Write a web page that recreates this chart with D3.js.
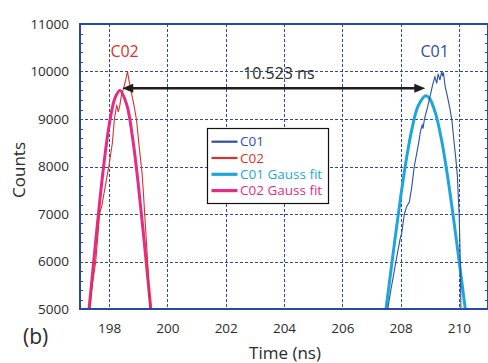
<!DOCTYPE html>
<html>
<head>
<meta charset="utf-8">
<script src="https://cdn.jsdelivr.net/npm/d3@7"></script>
<style>
  html, body { margin: 0; padding: 0; background: #fff; }
  svg { display: block; font-family: "Open Sans", "Noto Sans", "DejaVu Sans", sans-serif; }
</style>
</head>
<body>
<div id="chart"></div>
<script>
// axis ticks
const timeTicks = [198, 200, 202, 204, 206, 208, 210];
const countTicks = [5000, 6000, 7000, 8000, 9000, 10000, 11000];

// C01 measured trace
const c01Time = [207.50, 207.56, 207.67, 207.84, 207.98, 208.04, 208.13, 208.21, 208.30, 208.38, 208.42,
    208.47, 208.62, 208.68, 208.74, 208.77, 208.82, 208.93, 209.01, 209.10, 209.18, 209.24, 209.29,
    209.35, 209.41, 209.44, 209.47, 209.53, 209.61, 209.70, 209.76, 209.84, 209.90, 209.95, 209.97,
    210.01, 210.05, 210.07, 210.08];
const c01Counts = [4700, 5000, 5410, 6000, 6460, 6600, 7000, 7160, 7250, 7550, 7750,
    8000, 8490, 8735, 8870, 8800, 9000, 9260, 9470, 9720, 9890, 9750, 9950,
    9820, 10000, 9900, 9980, 9680, 9470, 9190, 8980, 8490, 8140, 7790, 7510,
    7000, 6000, 5000, 4700];

// C02 measured trace
const c02Time = [197.30, 197.34, 197.42, 197.54, 197.62, 197.67, 197.76, 197.80, 197.90, 197.99, 198.05,
    198.11, 198.18, 198.26, 198.31, 198.36, 198.42, 198.50, 198.56, 198.63, 198.67, 198.72, 198.80,
    198.86, 198.94, 199.03, 199.13, 199.18, 199.22, 199.32, 199.40, 199.45];
const c02Counts = [4700, 5000, 5500, 6000, 6600, 7000, 7200, 7350, 7700, 8000, 8250,
    8490, 9000, 9300, 9150, 9260, 9500, 9650, 9800, 10000, 9850, 9680, 9450,
    9260, 8980, 8420, 7860, 7400, 7000, 6000, 5000, 4700];

// Gauss fits
const c01FitTime = [207.45, 207.6, 207.8, 208.0, 208.2, 208.4, 208.6, 208.86, 209.0, 209.2, 209.4, 209.6, 209.8, 210.0, 210.2, 210.3];
const c01FitCounts = [4766, 5476, 6432, 7345, 8160, 8819, 9270, 9490, 9426, 9118, 8578, 7848, 6987, 6052, 5094, 4627];
const c02FitTime = [197.3, 197.4, 197.6, 197.8, 198.0, 198.2, 198.37, 198.6, 198.8, 199.0, 199.2, 199.4, 199.45];
const c02FitCounts = [4937, 5561, 6806, 7947, 8867, 9440, 9600, 9310, 8622, 7625, 6435, 5184, 4878];

// peak separation annotation
const arrowTime = [198.45, 208.85];
const arrowCounts = 9650;
const arrowLabel = '10.523 ns';

const seriesNames = ['C01', 'C02', 'C01 Gauss fit', 'C02 Gauss fit'];
const colors = {
    frame: '#2a4aa0',
    c01: '#2c4ea3',
    c02: '#d8322c',
    c01Fit: '#1ea6dc',
    c02Fit: '#e62b83',
    text: '#2a2a2a'
};

const width = 488, height = 363;
const plot = {left: 80, top: 24, right: 488, bottom: 309};

const svg = d3.select('#chart').append('svg')
    .attr('width', width)
    .attr('height', height)
    .attr('viewBox', [0, 0, width, height]);

const x = d3.scaleLinear().domain([197, 211]).range([plot.left, plot.right]);
const y = d3.scaleLinear().domain([5000, 11000]).range([plot.bottom, plot.top]);

svg.append('defs').append('clipPath').attr('id', 'clip')
    .append('rect')
    .attr('x', plot.left).attr('y', plot.top)
    .attr('width', plot.right - plot.left).attr('height', plot.bottom - plot.top);

//grid
const grid = svg.append('g')
    .attr('stroke', colors.frame)
    .attr('stroke-width', 1)
    .attr('stroke-dasharray', '3,2');
grid.selectAll('line.v')
    .data(timeTicks)
    .join('line')
    .attr('class', 'v')
    .attr('x1', d => Math.round(x(d)) + 0.5).attr('x2', d => Math.round(x(d)) + 0.5)
    .attr('y1', plot.top).attr('y2', plot.bottom);
grid.selectAll('line.h')
    .data(countTicks.slice(1, -1))
    .join('line')
    .attr('class', 'h')
    .attr('x1', plot.left).attr('x2', plot.right)
    .attr('y1', d => Math.round(y(d)) + 0.5).attr('y2', d => Math.round(y(d)) + 0.5);

//minor ticks on the vertical axes
const minor = y.ticks(30);
svg.append('g')
    .attr('stroke', colors.frame)
    .attr('stroke-width', 1)
    .selectAll('path')
    .data(minor)
    .join('path')
    .attr('d', d => {
        const yy = Math.round(y(d)) + 0.5;
        return `M${plot.left},${yy}h3M${plot.right},${yy}h-3`;
    });

//data lines
const line = d3.line()
    .x(d => x(d[0]))
    .y(d => y(d[1]))
    .curve(d3.curveLinear);
const smooth = d3.line()
    .x(d => x(d[0]))
    .y(d => y(d[1]))
    .curve(d3.curveCatmullRom);

const lines = svg.append('g').attr('clip-path', 'url(#clip)').attr('fill', 'none');
lines.append('path')
    .attr('d', smooth(d3.zip(c01FitTime, c01FitCounts)))
    .attr('stroke', colors.c01Fit).attr('stroke-width', 3);
lines.append('path')
    .attr('d', smooth(d3.zip(c02FitTime, c02FitCounts)))
    .attr('stroke', colors.c02Fit).attr('stroke-width', 3);
lines.append('path')
    .attr('d', line(d3.zip(c01Time, c01Counts)))
    .attr('stroke', colors.c01).attr('stroke-width', 1.1);
lines.append('path')
    .attr('d', line(d3.zip(c02Time, c02Counts)))
    .attr('stroke', colors.c02).attr('stroke-width', 1.1);

//frame
svg.append('rect')
    .attr('x', plot.left).attr('y', plot.top)
    .attr('width', plot.right - plot.left).attr('height', plot.bottom - plot.top)
    .attr('fill', 'none')
    .attr('stroke', colors.frame)
    .attr('stroke-width', 2);

//axes
svg.append('g')
    .attr('transform', `translate(${plot.left},0)`)
    .call(d3.axisLeft(y).tickValues(countTicks).tickSize(0).tickPadding(11).tickFormat(d3.format('d')))
    .call(g => g.select('.domain').remove())
    .call(g => g.selectAll('text').attr('fill', colors.text).style('font-size', '13.5px'));
svg.append('g')
    .attr('transform', `translate(0,${plot.bottom})`)
    .call(d3.axisBottom(x).tickValues(timeTicks).tickSize(0).tickPadding(14).tickFormat(d3.format('d')))
    .call(g => g.select('.domain').remove())
    .call(g => g.selectAll('text').attr('fill', colors.text).style('font-size', '13.5px'));
svg.selectAll('g[font-family]').attr('font-family', null).attr('font-size', null);

//axis titles
svg.append('text')
    .attr('x', (plot.left + plot.right) / 2 + 1)
    .attr('y', 359)
    .attr('text-anchor', 'middle')
    .attr('fill', colors.text)
    .style('font-size', '17px')
    .text('Time (ns)');
svg.append('text')
    .attr('transform', 'translate(25,170) rotate(-90)')
    .attr('text-anchor', 'middle')
    .attr('fill', colors.text)
    .style('font-size', '17px')
    .text('Counts');
svg.append('text')
    .attr('x', 23).attr('y', 344)
    .attr('fill', colors.text)
    .style('font-size', '21px')
    .text('(b)');

//peak labels
svg.append('text')
    .attr('x', x(198.53)).attr('y', y(10300))
    .attr('text-anchor', 'middle')
    .attr('fill', colors.c02)
    .style('font-size', '16px')
    .text('C02');
svg.append('text')
    .attr('x', x(209.17)).attr('y', y(10300))
    .attr('text-anchor', 'middle')
    .attr('fill', colors.c01)
    .style('font-size', '16px')
    .text('C01');

//double arrow
const ay = y(arrowCounts);
const x0 = x(arrowTime[0]), x1 = x(arrowTime[1]);
const head = 11, half = 4.5;
const arrow = svg.append('g').attr('fill', '#1e1e1e');
arrow.append('line')
    .attr('x1', x0 + head - 1).attr('x2', x1 - head + 1)
    .attr('y1', ay).attr('y2', ay)
    .attr('stroke', '#1e1e1e').attr('stroke-width', 2.5);
arrow.append('path').attr('d', `M${x0},${ay}l${head},${-half}v${2 * half}z`);
arrow.append('path').attr('d', `M${x1},${ay}l${-head},${-half}v${2 * half}z`);
svg.append('text')
    .attr('x', (x0 + x1) / 2 + 5).attr('y', ay - 9)
    .attr('text-anchor', 'middle')
    .attr('fill', colors.text)
    .style('font-size', '16px')
    .text(arrowLabel);

//legend
const legendColors = [colors.c01, colors.c02, colors.c01Fit, colors.c02Fit];
const legendWidths = [2.2, 2.2, 3.2, 3.2];
const legend = svg.append('g').attr('transform', 'translate(207,128)');
legend.append('rect')
    .attr('x', 0.5).attr('y', 0.5)
    .attr('width', 121).attr('height', 75)
    .attr('fill', '#fff')
    .attr('stroke', '#111')
    .attr('stroke-width', 1.2);
const rows = legend.selectAll('g.row')
    .data(seriesNames)
    .join('g')
    .attr('class', 'row')
    .attr('transform', (_, i) => `translate(0,${13.7 + i * 16.3})`);
rows.append('line')
    .attr('x1', 4.5).attr('x2', 30.5)
    .attr('stroke', (_, i) => legendColors[i])
    .attr('stroke-width', (_, i) => legendWidths[i]);
rows.append('text')
    .attr('x', 33).attr('dy', '0.35em')
    .attr('fill', (_, i) => legendColors[i])
    .style('font-size', '13.5px')
    .text(d => d);
</script>
</body>
</html>
